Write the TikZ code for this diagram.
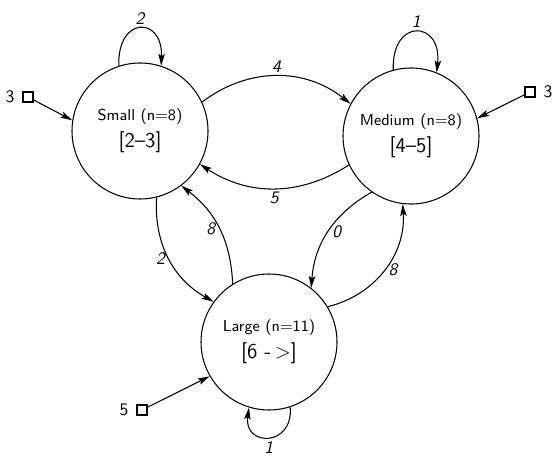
\documentclass[tikz,border=0pt]{standalone}
\usepackage{tikz}
\usetikzlibrary{arrows.meta}

\begin{document}
\begin{tikzpicture}[
    font=\sffamily,
    line width=0.6pt,
    >={Stealth[length=2.4mm,width=1.3mm,inset=0.5mm]},
    state/.style={draw, circle, minimum size=2.72cm, inner sep=0pt, align=center, font=\sffamily\small},
    src/.style={draw, rectangle, minimum size=0.2cm, inner sep=0pt},
    lbl/.style={font=\sffamily\itshape, inner sep=2pt}
  ]
    \useasboundingbox (0,0) rectangle (11.12,9.2);

    \node[state] (small) at (2.8,6.58) {Small (n=8)\\[3pt]{\large [2--3]}};
    \node[state] (medium) at (8.22,6.48) {Medium (n=8)\\[3pt]{\large [4--5]}};
    \node[state] (large) at (5.38,2.36) {Large (n=11)\\[3pt]{\large [6 -\,>]}};

    \draw[->] (small.25) to[bend left=38] node[lbl, above] {4} (medium.152);
    \draw[->] (medium.205) to[bend left=33] node[lbl, below] {5} (small.331);
    \draw[->] (small.284) to[bend right=32] node[lbl, left] {2} (large.144);
    \draw[->] (large.122) to[bend right=25] node[lbl, left] {8} (small.307);
    \draw[->] (medium.235) to[bend right=28] node[lbl, right] {0} (large.52);
    \draw[->] (large.31) to[bend right=40] node[lbl, right] {8} (medium.263);

    \draw[->] (small.108) .. controls +(92:1.0) and +(88:1.0) .. node[lbl, above] {2} (small.72);
    \draw[->] (medium.105) .. controls +(92:1.05) and +(84:1.05) .. node[lbl, above] {1} (medium.68);
    \draw[->] (large.288) .. controls +(-85:0.8) and +(-98:0.8) .. node[lbl, below] {1} (large.253);

    \node[src, label={[label distance=1pt]left:3}] (insmall) at (0.56,7.26) {};
    \node[src, label={[label distance=1pt]right:3}] (inmedium) at (10.6,7.36) {};
    \node[src, label={[label distance=1pt]left:5}] (inlarge) at (2.84,1.0) {};
    \draw[->] (insmall) -- (small.171);
    \draw[->] (inmedium) -- (medium.15);
    \draw[->] (inlarge) -- (large.210);
\end{tikzpicture}
\end{document}
